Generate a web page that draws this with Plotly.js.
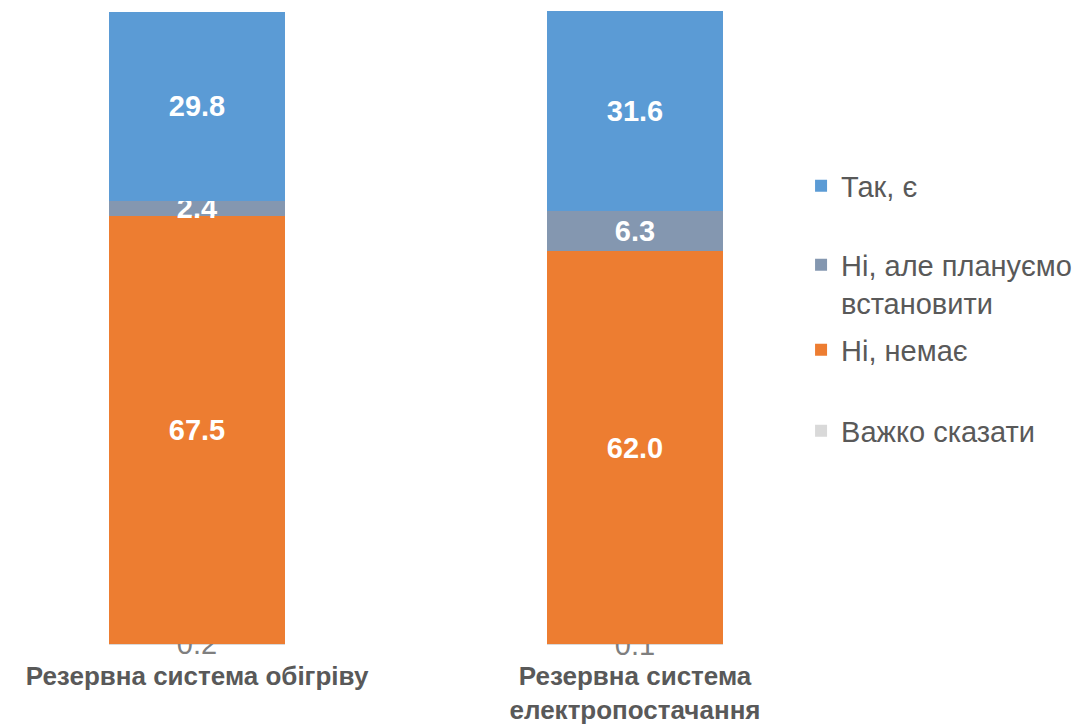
<!DOCTYPE html>
<html>
<head>
<meta charset="utf-8">
<script src="https://cdn.plot.ly/plotly-3.0.1.min.js"></script>
<style>html,body{margin:0;padding:0;background:#fff;}#chart{width:1078px;height:725px;}</style>
</head>
<body>
<div id="chart"></div>
<script>
const categories = ["Резервна система обігріву", "Резервна система<br>електропостачання"];
const seriesNames = ["Важко сказати", "Ні, немає", "Ні, але плануємо<br>встановити", "Так, є"];
const hardToSay = [0.2, 0.1];
const noHave = [67.5, 62.0];
const noPlan = [2.4, 6.3];
const yesHave = [29.8, 31.6];

const values = [hardToSay, noHave, noPlan, yesHave];
const colors = ["#D9D9D9", "#ED7D31", "#8497B0", "#5B9BD5"];
const labelColors = ["#7F7F7F", "#FFFFFF", "#FFFFFF", "#FFFFFF"];
const labelWeights = ["normal", "bold", "bold", "bold"];
const legendIds = ["legend4", "legend3", "legend2", "legend"];
const FONT = "Liberation Sans, Arial, sans-serif";

const traces = values.map((v, i) => ({
  type: "bar",
  x: categories,
  y: v,
  name: seriesNames[i],
  legend: legendIds[i],
  marker: {color: colors[i], line: {width: 0}},
  text: v.map(d => d.toFixed(1)),
  textposition: "inside",
  insidetextanchor: "middle",
  textangle: 0,
  cliponaxis: false,
  textfont: {color: labelColors[i], size: 29, family: FONT, weight: labelWeights[i]},
  hoverinfo: "none",
  width: 0.402
}));

function legendAt(py, valign) {
  return {
    x: 1.027,
    xanchor: "left",
    y: (645 - py) / 634,
    yanchor: "middle",
    valign: valign || "middle",
    font: {family: FONT, size: 29, color: "#595959"},
    bgcolor: "rgba(0,0,0,0)"
  };
}

const layout = {
  width: 1078,
  height: 725,
  barmode: "stack",
  paper_bgcolor: "#ffffff",
  plot_bgcolor: "#ffffff",
  margin: {l: 0, r: 298, t: 11, b: 80},
  uniformtext: {mode: "show", minsize: 29},
  xaxis: {
    type: "category",
    range: [-0.4498, 1.331],
    showgrid: false,
    showline: false,
    zeroline: false,
    ticks: "",
    ticklabelstandoff: 13,
    tickfont: {family: FONT, size: 26, color: "#595959", weight: "bold"}
  },
  yaxis: {
    range: [0, 100],
    visible: false,
    showgrid: false,
    zeroline: false
  },
  showlegend: true,
  legend: legendAt(186),
  legend2: legendAt(284, "top"),
  legend3: legendAt(350),
  legend4: legendAt(431)
};

Plotly.newPlot("chart", traces, layout, {displayModeBar: false, staticPlot: true});
</script>
</body>
</html>
